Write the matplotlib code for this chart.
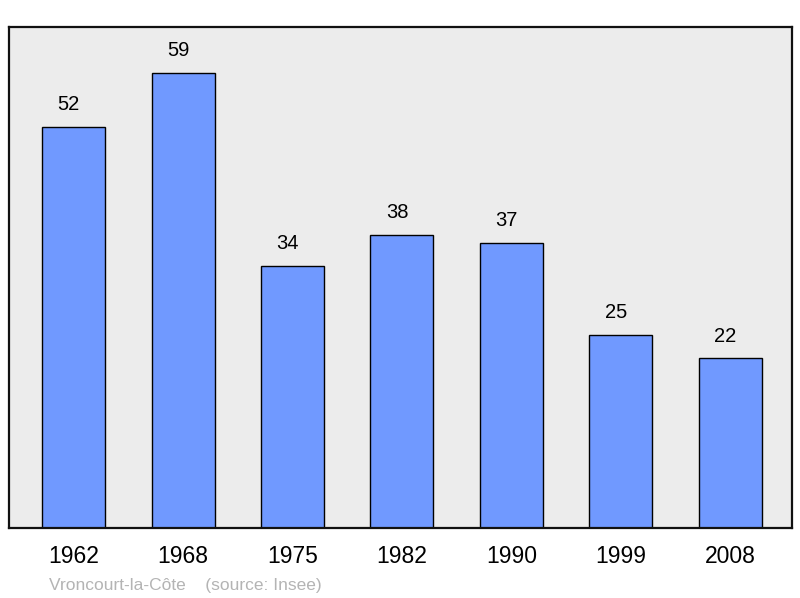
import numpy as np
import matplotlib.pyplot as plt

plt.rcParams["font.family"] = ["Liberation Sans", "DejaVu Sans"]

years = ["1962", "1968", "1975", "1982", "1990", "1999", "2008"]
population = [52, 59, 34, 38, 37, 25, 22]
commune = "Vroncourt-la-Côte"
source = "(source: Insee)"

fig = plt.figure(figsize=(8, 5.98), dpi=100)
ax = fig.add_axes([0.011, 0.117, 0.979, 0.838])
ax.set_facecolor("#ececec")

x = np.arange(len(years))
ax.bar(x, population, width=0.575, color="#7099ff", edgecolor="black", linewidth=1.0, zorder=2)

for xi, v in zip(x, population):
    ax.text(xi - 0.045, v + 2.9, str(v), ha="center", va="center", fontsize=14.5, color="black")

ax.set_xlim(-0.594, 6.566)
ax.set_ylim(0, 65)
ax.set_xticks(x)
ax.set_xticklabels(years, fontsize=16.5)
ax.tick_params(axis="x", length=0, pad=12)
ax.set_yticks([])
for side, sp in ax.spines.items():
    sp.set_linewidth(1.6)
    sp.set_color("#111111")

fig.text(0.061, 0.009, commune + "    " + source, fontsize=12.5, color="#b4b4b4", ha="left", va="bottom")

plt.savefig("out.png", dpi=100)
plt.close()
